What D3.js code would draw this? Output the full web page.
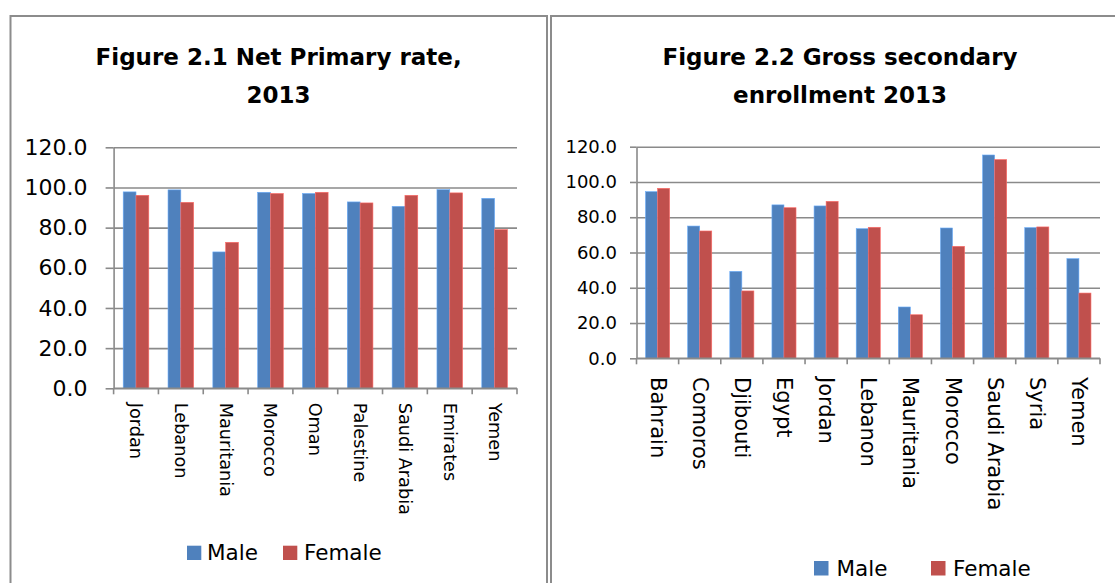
<!DOCTYPE html>
<html>
<head>
<meta charset="utf-8">
<script src="https://cdn.jsdelivr.net/npm/d3@7"></script>
<style>
  html, body { margin: 0; padding: 0; background: #ffffff; }
  svg { display: block; }
  text { font-family: "DejaVu Sans", sans-serif; fill: #000; }
</style>
</head>
<body>
<svg id="chart" width="1115" height="583"></svg>
<script>
// Figure 2.1 — net primary enrolment rate, 2013
const primaryCountries = ["Jordan", "Lebanon", "Mauritania", "Morocco", "Oman", "Palestine", "Saudi Arabia", "Emirates", "Yemen"];
const primaryMale   = [97.8, 98.8, 67.9, 97.6, 97.0, 92.8, 90.6, 98.9, 94.6];
const primaryFemale = [96.1, 92.6, 72.7, 97.0, 97.6, 92.3, 96.1, 97.3, 79.0];

// Figure 2.2 — gross secondary enrolment, 2013
const secondaryCountries = ["Bahrain", "Comoros", "Djibouti", "Egypt", "Jordan", "Lebanon", "Mauritania", "Morocco", "Saudi Arabia", "Syria", "Yemen"];
const secondaryMale   = [94.5, 75.0, 49.3, 87.0, 86.4, 73.5, 29.1, 73.9, 115.3, 74.1, 56.5];
const secondaryFemale = [96.4, 72.2, 38.2, 85.4, 89.0, 74.3, 24.7, 63.5, 112.7, 74.5, 37.0];

const seriesNames = ["Male", "Female"];
const yTicks = [0, 20, 40, 60, 80, 100, 120];

const colors = { Male: "#4F81BD", Female: "#C0504D" };
const gridColor = "#8a8a8a";
const frameColor = "#8c8c8c";

const svg = d3.select("#chart");

// panel frames
function frame(x0, x1) {
  const g = svg.append("g");
  g.append("line").attr("x1", x0).attr("x2", x1).attr("y1", 16).attr("y2", 16)
    .attr("stroke", frameColor).attr("stroke-width", 2);
  g.append("line").attr("x1", x0).attr("x2", x0).attr("y1", 15).attr("y2", 583)
    .attr("stroke", frameColor).attr("stroke-width", 2);
  if (x1 < 1115) {
    g.append("line").attr("x1", x1).attr("x2", x1).attr("y1", 15).attr("y2", 583)
      .attr("stroke", frameColor).attr("stroke-width", 2);
  }
}
frame(10.5, 547);
frame(551, 1120);

function drawPanel(cfg) {
  const { categories, male, female, x0, x1, yTop, yBottom } = cfg;
  const g = svg.append("g");

  const y = d3.scaleLinear().domain([0, 120]).range([yBottom, yTop]);
  const gap = 1.5 / 3.5; // Excel-style gap width of 150%
  const x = d3.scaleBand().domain(categories).range([x0, x1])
    .paddingInner(gap).paddingOuter(gap / 2);
  const xs = d3.scaleBand().domain(seriesNames).range([0, x.bandwidth()]);

  // title
  const title = g.append("text")
    .attr("text-anchor", "middle")
    .style("font-weight", "bold")
    .style("font-size", cfg.titleSize + "px");
  cfg.titleLines.forEach((t, i) => {
    title.append("tspan").attr("x", cfg.titleX).attr("y", cfg.titleY + i * cfg.titleGap).text(t);
  });

  // horizontal gridlines
  g.append("g")
    .attr("transform", `translate(${x0},0)`)
    .call(d3.axisLeft(y).tickValues(yTicks).tickSize(-(x1 - x0)).tickFormat(""))
    .call(a => a.select(".domain").remove())
    .call(a => a.selectAll("line").attr("stroke", gridColor).attr("stroke-width", 1.6));

  // y axis with tick labels
  g.append("g")
    .attr("transform", `translate(${x0},0)`)
    .call(d3.axisLeft(y).tickValues(yTicks).tickSize(cfg.yTickLen).tickSizeOuter(0)
      .tickPadding(cfg.yPad).tickFormat(d3.format(".1f")))
    .call(a => a.select(".domain").attr("stroke", gridColor).attr("stroke-width", 1.6))
    .call(a => a.selectAll("line").attr("stroke", gridColor).attr("stroke-width", 1.6))
    .call(a => a.selectAll("text")
      .style("font-family", '"DejaVu Sans", sans-serif')
      .style("font-size", cfg.yFont + "px").attr("fill", "#000"));

  // bars
  const rows = categories.map((c, i) => ({ c, vals: [
    { s: "Male", v: male[i] }, { s: "Female", v: female[i] }] }));
  const grp = g.append("g").selectAll("g").data(rows).join("g")
    .attr("transform", d => `translate(${x(d.c)},0)`);
  grp.selectAll("rect").data(d => d.vals).join("rect")
    .attr("x", d => xs(d.s))
    .attr("width", xs.bandwidth())
    .attr("y", d => y(d.v))
    .attr("height", d => y(0) - y(d.v))
    .attr("fill", d => colors[d.s])
    .attr("stroke", d => d3.color(colors[d.s]).brighter(0.8))
    .attr("stroke-width", 0.6);

  // x axis line and category boundary ticks
  g.append("line").attr("x1", x0).attr("x2", x1).attr("y1", y(0)).attr("y2", y(0))
    .attr("stroke", gridColor).attr("stroke-width", 1.6);
  g.append("g").selectAll("line").data(d3.range(categories.length + 1)).join("line")
    .attr("x1", i => x0 + i * x.step()).attr("x2", i => x0 + i * x.step())
    .attr("y1", y(0)).attr("y2", y(0) + 6)
    .attr("stroke", gridColor).attr("stroke-width", 1.6);

  // rotated category labels
  g.append("g").selectAll("text").data(categories).join("text")
    .attr("transform", d => `translate(${x(d) + x.bandwidth() / 2},${yBottom + cfg.labelGap}) rotate(90)`)
    .attr("dominant-baseline", "central")
    .style("font-size", cfg.xFont + "px")
    .text(d => d);

  // legend
  const lg = g.append("g");
  cfg.legend.forEach((item, i) => {
    lg.append("rect").attr("x", item.box).attr("y", cfg.legendY - cfg.legendBox)
      .attr("width", cfg.legendBox).attr("height", cfg.legendBox)
      .attr("fill", colors[seriesNames[i]]);
    lg.append("text").attr("x", item.text).attr("y", cfg.legendY)
      .style("font-size", cfg.legendFont + "px")
      .text(seriesNames[i]);
  });
}

drawPanel({
  categories: primaryCountries, male: primaryMale, female: primaryFemale,
  x0: 113.6, x1: 517, yTop: 147.3, yBottom: 388.3,
  titleLines: ["Figure 2.1 Net Primary rate,", "2013"],
  titleX: 278.6, titleY: 65, titleGap: 38, titleSize: 23,
  yTickLen: 8, yPad: 18, yFont: 22,
  xFont: 17.7, labelGap: 14.4,
  legend: [{ box: 187, text: 207 }, { box: 283, text: 304 }],
  legendY: 560, legendBox: 14.3, legendFont: 21.5
});

drawPanel({
  categories: secondaryCountries, male: secondaryMale, female: secondaryFemale,
  x0: 636.5, x1: 1100, yTop: 146.7, yBottom: 358.3,
  titleLines: ["Figure 2.2 Gross secondary", "enrollment 2013"],
  titleX: 840, titleY: 65, titleGap: 38, titleSize: 23,
  yTickLen: 6.5, yPad: 13, yFont: 18,
  xFont: 21, labelGap: 18.7,
  legend: [{ box: 814, text: 836.5 }, { box: 931, text: 953 }],
  legendY: 575.5, legendBox: 14.5, legendFont: 21.5
});
</script>
</body>
</html>
